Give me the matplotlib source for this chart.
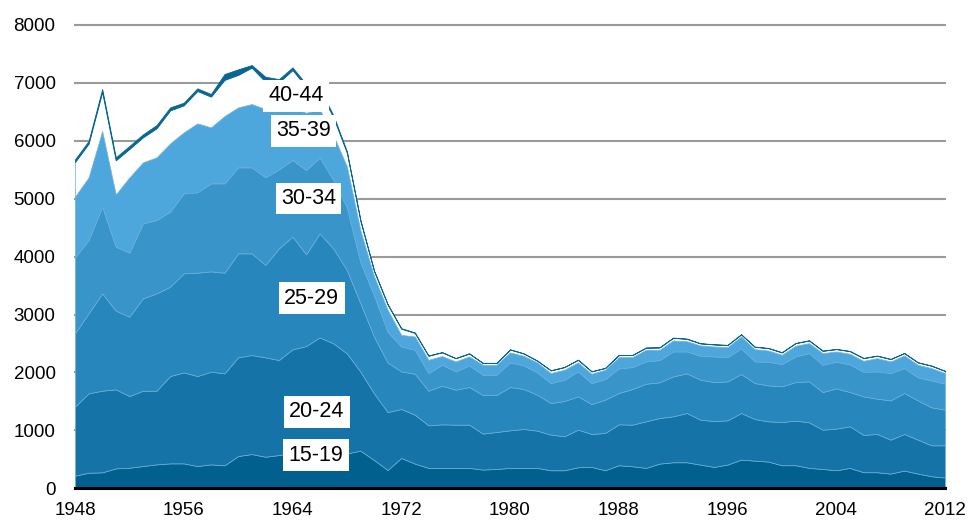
import matplotlib
matplotlib.use("Agg")
import matplotlib.pyplot as plt
import numpy as np

plt.rcParams['font.family'] = ['Liberation Sans', 'DejaVu Sans']

years = list(range(1948, 2013))

a15_19 = [216, 268, 274, 343, 354, 383, 412, 429, 429, 383,
          412, 395, 556, 590, 544, 573, 600, 610, 630, 640,
          602, 648, 487, 315, 523, 425, 351, 351, 351, 351,
          322, 333, 351, 351, 351, 310, 310, 362, 368, 310,
          397, 379, 351, 425, 448, 448, 408, 368, 408, 494,
          477, 460, 397, 397, 351, 333, 310, 351, 276, 276,
          253, 305, 253, 207, 184]
a20_24 = [1192, 1370, 1410, 1364, 1238, 1301, 1272, 1508, 1572, 1554,
          1600, 1589, 1704, 1710, 1716, 1641, 1798, 1845, 1975, 1862,
          1727, 1364, 1151, 1000, 845, 845, 735, 752, 747, 747,
          621, 638, 649, 672, 643, 615, 587, 649, 569, 644,
          706, 719, 804, 788, 793, 851, 776, 793, 764, 805,
          718, 695, 747, 770, 787, 678, 719, 718, 644, 661,
          586, 632, 586, 534, 557]
a25_29 = [1266, 1382, 1681, 1359, 1370, 1595, 1681, 1543, 1710, 1785,
          1733, 1738, 1796, 1756, 1595, 1928, 1946, 1584, 1796, 1640,
          1439, 1180, 979, 855, 649, 707, 598, 667, 603, 649,
          666, 638, 747, 690, 621, 546, 609, 575, 517, 575,
          541, 615, 650, 615, 690, 684, 690, 672, 673, 672,
          621, 621, 615, 666, 707, 650, 695, 592, 666, 609,
          678, 707, 678, 656, 615]
a30_34 = [1313, 1266, 1497, 1105, 1106, 1295, 1267, 1296, 1381, 1388,
          1520, 1543, 1485, 1485, 1514, 1365, 1324, 1456, 1307, 1181,
          1082, 708, 713, 530, 431, 414, 305, 362, 316, 374,
          351, 351, 425, 408, 385, 345, 368, 431, 362, 356,
          425, 379, 385, 385, 431, 379, 413, 443, 419, 443,
          374, 408, 385, 443, 488, 471, 460, 477, 425, 471,
          472, 431, 397, 465, 449]
a35_39 = [1048, 1082, 1307, 904, 1300, 1054, 1082, 1180, 1054, 1191,
          967, 1163, 1036, 1094, 1180, 1036, 909, 990, 835, 777,
          710, 550, 330, 380, 201, 230, 229, 150, 173, 155,
          172, 172, 173, 166, 172, 173, 172, 155, 161, 161,
          195, 172, 201, 178, 190, 178, 179, 172, 173, 207,
          212, 195, 161, 184, 173, 201, 178, 184, 190, 230,
          201, 218, 218, 213, 184]
a40_44 = [599, 583, 675, 589, 492, 433, 503, 571, 467, 560,
          531, 625, 562, 629, 473, 467, 646, 450, 317, 310,
          235, 165, 90, 92, 107, 61, 70, 65, 55, 50,
          30, 30, 50, 40, 30, 45, 45, 45, 40, 30,
          35, 35, 35, 40, 45, 40, 35, 35, 35, 35,
          40, 40, 40, 45, 45, 40, 40, 45, 45, 40,
          40, 40, 40, 40, 35]
a45_49 = [45, 45, 50, 50, 50, 50, 55, 50, 45, 45,
          45, 100, 95, 45, 85, 55, 45, 45, 40, 35,
          25, 15, 10, 8, 8, 8, 5, 4, 4, 4,
          4, 4, 4, 4, 4, 4, 4, 4, 4, 4,
          4, 4, 4, 4, 4, 4, 4, 4, 4, 4,
          4, 4, 4, 4, 4, 4, 4, 4, 4, 4,
          4, 4, 4, 4, 4]

groups = ["15-19", "20-24", "25-29", "30-34", "35-39", "40-44", "45-49"]
colors = ['#02608f', '#1573a7', '#2786bb', '#3995c9', '#4da6dc', '#ffffff', '#0a6593']

fig = plt.figure(figsize=(9.7, 5.23), dpi=100)
ax = fig.add_axes([0.0773, 0.0665, 0.8969, 0.8857])

polys = ax.stackplot(years, a15_19, a20_24, a25_29, a30_34, a35_39, a40_44, a45_49,
                     colors=colors, linewidth=0, zorder=2)
for p in polys[:6]:
    p.set_edgecolor('#6aaedb')
    p.set_linewidth(0.5)
polys[6].set_edgecolor('#0a6593')
polys[6].set_linewidth(0.6)

ax.set_xlim(1948, 2012)
ax.set_ylim(0, 8000)
ax.set_yticks(range(0, 8001, 1000))
ax.set_xticks(range(1948, 2013, 8))
ax.grid(axis='y', color='#9a9a9a', linewidth=1.5)
ax.set_axisbelow(True)
for gl in ax.get_ygridlines():
    gl.set_clip_on(False)
ax.axhline(0, color='black', linewidth=2.2, zorder=5, clip_on=False)

for s in ax.spines.values():
    s.set_visible(False)
ax.tick_params(axis='both', length=0, labelsize=13.5)
ax.tick_params(axis='y', pad=14)
ax.tick_params(axis='x', pad=10)

# labels in white boxes
label_pos = {
    "40-44": (1962.2, 6780),
    "35-39": (1962.8, 6175),
    "30-34": (1963.15, 5005),
    "25-29": (1963.4, 3280),
    "20-24": (1963.76, 1322),
    "15-19": (1963.7, 573),
}
for name, (lx, ly) in label_pos.items():
    ax.text(lx, ly, name, ha='left', va='center', fontsize=15.5,
            family=['Liberation Sans Narrow', 'Liberation Sans', 'DejaVu Sans'],
            bbox=dict(facecolor='white', edgecolor='none', boxstyle='square,pad=0.25'),
            zorder=6)

fig.savefig("out.png", dpi=100)
